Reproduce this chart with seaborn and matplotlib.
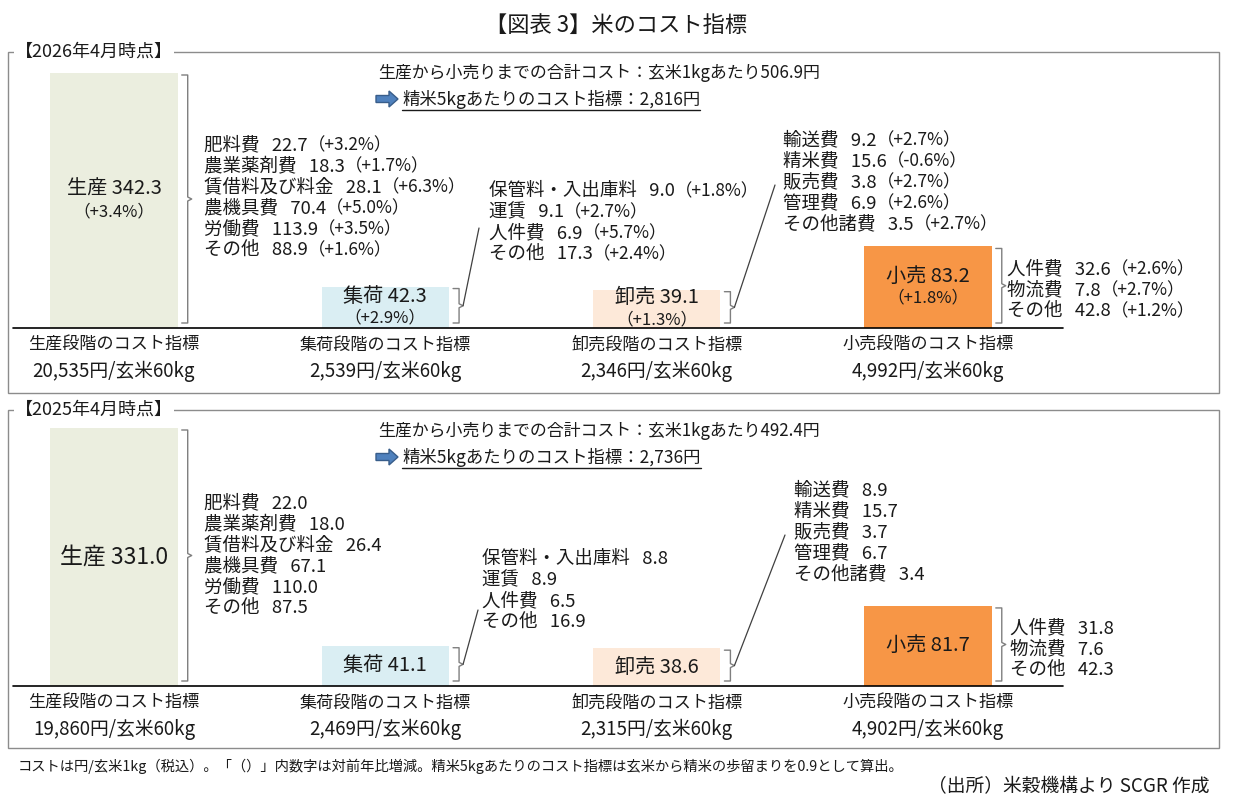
import numpy as np
import pandas as pd
import seaborn as sns
import matplotlib.pyplot as plt
from matplotlib.patches import Rectangle, FancyArrow

sns.set_theme(style="white")
plt.rcParams['font.family'] = ['Noto Sans CJK JP', 'DejaVu Sans']

# Stage totals (円/玄米1kg)
stages = ["生産", "集荷", "卸売", "小売"]
total_26 = [342.3, 42.3, 39.1, 83.2]
total_26_chg = [3.4, 2.9, 1.3, 1.8]
total_25 = [331.0, 41.1, 38.6, 81.7]

# Stage cost index (円/玄米60kg)
per60_26 = [20535, 2539, 2346, 4992]
per60_25 = [19860, 2469, 2315, 4902]

# Totals
sum_kg = {"2026": 506.9, "2025": 492.4}
per5kg = {"2026": 2816, "2025": 2736}

# Breakdown items
prod_items = ["肥料費", "農業薬剤費", "賃借料及び料金", "農機具費", "労働費", "その他"]
prod_26 = [22.7, 18.3, 28.1, 70.4, 113.9, 88.9]
prod_26_chg = [3.2, 1.7, 6.3, 5.0, 3.5, 1.6]
prod_25 = [22.0, 18.0, 26.4, 67.1, 110.0, 87.5]

coll_items = ["保管料・入出庫料", "運賃", "人件費", "その他"]
coll_26 = [9.0, 9.1, 6.9, 17.3]
coll_26_chg = [1.8, 2.7, 5.7, 2.4]
coll_25 = [8.8, 8.9, 6.5, 16.9]

whol_items = ["輸送費", "精米費", "販売費", "管理費", "その他諸費"]
whol_26 = [9.2, 15.6, 3.8, 6.9, 3.5]
whol_26_chg = [2.7, -0.6, 2.7, 2.6, 2.7]
whol_25 = [8.9, 15.7, 3.7, 6.7, 3.4]

ret_items = ["人件費", "物流費", "その他"]
ret_26 = [32.6, 7.8, 42.8]
ret_26_chg = [2.6, 2.7, 1.2]
ret_25 = [31.8, 7.6, 42.3]

bar_colors = ["#ebeedf", "#daeef3", "#fde9d9", "#f79646"]
TXT = "#1a1a1a"
W, H = 1248, 811
PX_PER_UNIT = 0.98
LINE = 21

fig = plt.figure(figsize=(W / 100, H / 100), dpi=100)
fig.patch.set_facecolor("white")
ov = fig.add_axes([0, 0, 1, 1], zorder=5)
ov.set_xlim(0, W)
ov.set_ylim(H, 0)
ov.axis("off")
renderer = fig.canvas.get_renderer()


def to_px(ax, x, y):
    d = ax.transData.transform((x, y))
    return d[0], H - d[1]


def put_line(x, y, main, sub=None, size=13.3, subsize=12.5):
    t = ov.text(x, y + 6, main, fontsize=size, va="baseline", ha="left", color=TXT)
    if sub:
        bb = t.get_window_extent(renderer)
        ov.text(x + bb.width, y + 6, sub, fontsize=subsize, va="baseline", color=TXT)
    return t


def block(x, y0, names, vals, chgs=None):
    for k, (n, v) in enumerate(zip(names, vals)):
        sub = f"（{chgs[k]:+.1f}%）" if chgs is not None else None
        put_line(x, y0 + k * LINE, f"{n}   {v:.1f}", sub)


def bracket(ax, bar):
    right = bar.get_x() + bar.get_width()
    top = min(bar.get_height(), ax.get_ylim()[1])
    xr, yt = to_px(ax, right, top)
    _, yb = to_px(ax, right, 0)
    x = xr + 10
    t, b = yt + 2, yb - 5
    m = (t + b) / 2
    ov.plot([x - 6, x, x, x + 4, x, x, x - 6], [t, t, m - 2, m, m + 2, b, b],
            color="#7f7f7f", lw=1)
    return x + 4, m


def panel(year, frame_top, frame_bot, top_px, base_px, totals, chg, per60,
          blocks, links):
    # frame + label
    ov.add_patch(Rectangle((8, frame_top), 1211, frame_bot - frame_top,
                           fill=False, ec="#8c8c8c", lw=1))
    ov.text(15, frame_top, f"【{year}年4月時点】", fontsize=13, va="center",
            color=TXT, bbox=dict(fc="white", ec="none", pad=1))

    # header
    hy = frame_top + 21
    ov.text(378, hy, f"生産から小売りまでの合計コスト：玄米1kgあたり{sum_kg[year]}円",
            fontsize=12.2, va="center", color=TXT)
    ov.add_patch(FancyArrow(376, hy + 26, 22, 0, width=7, head_width=16,
                            head_length=9, length_includes_head=True,
                            fc="#4f81bd", ec="#385d8a", lw=1))
    t = ov.text(402, hy + 26, f"精米5kgあたりのコスト指標：{per5kg[year]:,}円",
                fontsize=12.5, va="center", color=TXT)
    bb = t.get_window_extent(renderer)
    ov.plot([bb.x0, bb.x1], [H - bb.y0 + 1, H - bb.y0 + 1], color=TXT, lw=1)

    # bars
    ax = fig.add_axes([13 / W, 1 - base_px / H, 1050 / W, (base_px - top_px) / H])
    df = pd.DataFrame({"stage": stages, "cost": totals})
    sns.barplot(data=df, x="stage", y="cost", hue="stage", palette=bar_colors,
                width=0.47, saturation=1, linewidth=0, legend=False, ax=ax)
    ax.set_xlim(-0.372, 3.4975)
    ax.set_ylim(0, (base_px - top_px) / PX_PER_UNIT)
    ax.axis("off")
    ax.axhline(0, color="black", lw=1.2, clip_on=False)

    bars = sorted(ax.patches, key=lambda p: p.get_x())
    ymax = ax.get_ylim()[1]
    for i, (s, v) in enumerate(zip(stages, totals)):
        h = min(v, ymax) / 2
        if chg is not None:
            ax.annotate(f"{s} {v:.1f}", xy=(i, h), xytext=(0, 11),
                        textcoords="offset pixels", ha="center", va="center",
                        fontsize=14.5, color=TXT)
            ax.annotate(f"（{chg[i]:+.1f}%）", xy=(i, h), xytext=(0, -11),
                        textcoords="offset pixels", ha="center", va="center",
                        fontsize=12, color=TXT)
        else:
            ax.annotate(f"{s} {v:.1f}", xy=(i, h), xytext=(0, 0),
                        textcoords="offset pixels", ha="center", va="center",
                        fontsize=16.5 if i == 0 else 14.5, color=TXT)
        ax.annotate(f"{s}段階のコスト指標", xy=(i, 0), xytext=(0, -17),
                    textcoords="offset pixels", ha="center", va="center",
                    fontsize=12.3, color=TXT)
        ax.annotate(f"{per60[i]:,}円/玄米60kg", xy=(i, 0), xytext=(0, -43),
                    textcoords="offset pixels", ha="center", va="center",
                    fontsize=13.5, color=TXT)

    tips = [bracket(ax, b) for b in bars]

    for (bx, by, names, vals, chgs) in blocks:
        block(bx, by, names, vals, chgs)

    for i, end in links.items():
        sx, sy = tips[i]
        ov.plot([sx, end[0]], [sy, end[1]], color="#404040", lw=0.9)


ov.text(616, 25, "【図表 3】米のコスト指標", fontsize=16, ha="center", va="center",
        color=TXT)

panel("2026", 52, 393, 73, 328, total_26, total_26_chg, per60_26,
      [(204, 144, prod_items, prod_26, prod_26_chg),
       (489, 190, coll_items, coll_26, coll_26_chg),
       (783, 139, whol_items, whol_26, whol_26_chg),
       (1007, 268, ret_items, ret_26, ret_26_chg)],
      {1: (479, 228), 2: (775, 185)})

panel("2025", 410, 748, 428, 686, total_25, None, per60_25,
      [(204, 502, prod_items, prod_25, None),
       (482, 558, coll_items, coll_25, None),
       (794, 489, whol_items, whol_25, None),
       (1010, 627, ret_items, ret_25, None)],
      {1: (478, 610), 2: (785, 535)})

ov.text(18, 766, "コストは円/玄米1kg（税込）。「（）」内数字は対前年比増減。精米5kgあたりのコスト指標は玄米から精米の歩留まりを0.9として算出。",
        fontsize=10.3, va="center", color=TXT)
ov.text(1210, 787, "（出所）米穀機構より SCGR 作成", fontsize=13.5, ha="right",
        va="center", color=TXT)

fig.savefig("out.png", dpi=100)
